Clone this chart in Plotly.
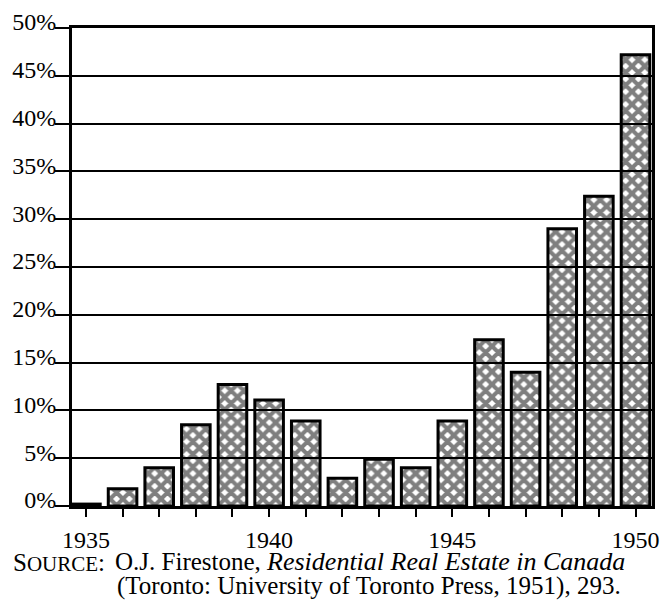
import plotly.graph_objects as go

years = list(range(1935, 1951))
values = [0.2, 1.8, 4.0, 8.5, 12.7, 11.1, 8.9, 2.9, 4.9, 4.0, 8.9, 17.4, 14.0, 29.0, 32.4, 47.2]
year_labels = ["1935" if y == 1935 else "1940" if y == 1940 else "1945" if y == 1945 else "1950" if y == 1950 else "" for y in years]
y_ticks = [0, 5, 10, 15, 20, 25, 30, 35, 40, 45, 50]
y_labels = [f"{v}%" for v in y_ticks]

FONT = "Liberation Serif, Times New Roman, serif"

W, H = 661, 602
L, R, T, B = 72, 9, 28, 96
PW, PH = W - L - R, H - T - B

def px(xp):  # page x -> paper
    return (xp - L) / PW

def py(yp):  # page y -> paper
    return (H - B - yp) / PH

fig = go.Figure()
fig.add_trace(go.Bar(
    x=years, y=values, width=0.78,
    marker=dict(
        color="rgba(255,255,255,0)",
        line=dict(color="black", width=3),
        pattern=dict(shape="x", fgcolor="black", bgcolor="rgba(255,255,255,0)",
                     size=9, solidity=0.7, fillmode="overlay"),
    ),
    hoverinfo="skip",
))

fig.update_layout(
    width=W, height=H,
    margin=dict(l=L, r=R, t=T, b=B),
    paper_bgcolor="white", plot_bgcolor="white",
    showlegend=False,
    font=dict(family=FONT, size=24, color="black"),
    xaxis=dict(
        range=[1934.62, 1950.45],
        tickvals=years, ticktext=year_labels,
        ticks="outside", ticklen=8, tickwidth=2, tickcolor="black",
        showline=True, linewidth=3, linecolor="black", mirror=True,
        showgrid=False, zeroline=False, automargin=False,
        ticklabelstandoff=2, ticklabeloverflow="allow",
        tickfont=dict(family=FONT, size=24, color="black"),
    ),
    yaxis=dict(
        range=[0, 50],
        tickvals=y_ticks, ticktext=y_labels,
        ticks="outside", ticklen=14, tickwidth=2, tickcolor="black",
        showline=True, linewidth=3, linecolor="black", mirror=True,
        showgrid=True, gridcolor="black", gridwidth=2,
        zeroline=False, automargin=False,
        ticklabelstandoff=-6, ticklabelshift=-6, ticklabeloverflow="allow",
        tickfont=dict(family=FONT, size=24, color="black"),
    ),
)

fig.add_annotation(
    xref="paper", yref="paper", x=px(11), y=py(578),
    xanchor="left", yanchor="bottom", showarrow=False,
    text="S<span style='font-size:21px'>OURCE</span>:",
    font=dict(family=FONT, size=25, color="black"),
)
fig.add_annotation(
    xref="paper", yref="paper", x=px(113), y=py(578),
    xanchor="left", yanchor="bottom", showarrow=False,
    text="O.J. Firestone, <i><span style='font-size:26px'>Residential Real Estate in Canada</span></i>",
    font=dict(family=FONT, size=25, color="black"),
)
fig.add_annotation(
    xref="paper", yref="paper", x=px(115), y=py(602),
    xanchor="left", yanchor="bottom", showarrow=False,
    text="(Toronto: University of Toronto Press, 1951), 293.",
    font=dict(family=FONT, size=25, color="black"),
)

fig.write_html(
    "out.html",
    config={"displayModeBar": False},
    post_script="document.body.style.margin='0';document.body.style.overflow='hidden';",
)
